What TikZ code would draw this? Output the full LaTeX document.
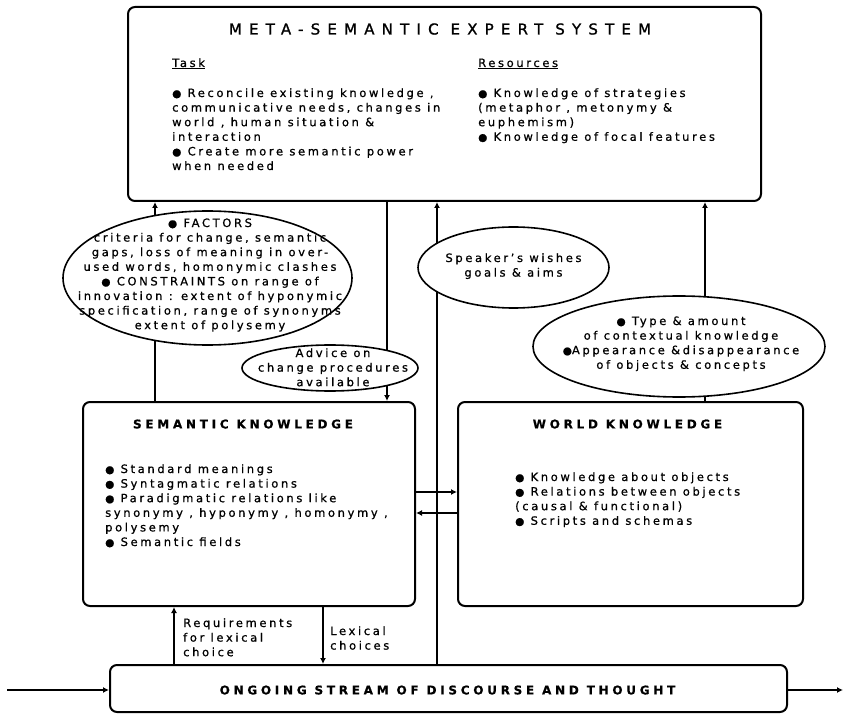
\documentclass[tikz,border=0pt]{standalone}
\usepackage{fontspec}
\setmainfont{DejaVu Sans}[LetterSpace=23,FakeBold=0.8]
\newfontfamily\titlefont{DejaVu Sans}[LetterSpace=48,FakeBold=1.2]
\newfontfamily\headfont{DejaVu Sans}[LetterSpace=31,FakeBold=0.6]
\usetikzlibrary{arrows.meta,shapes.geometric}
\newcommand\bul{{\fontsize{10.5}{10.5}\selectfont ●}}
\begin{document}
\begin{tikzpicture}[x=1pt,y=-1pt,
  box/.style={draw, line width=2pt, rounded corners=7pt, inner sep=0},
  ell/.style={draw, ellipse, fill=white, line width=1.6pt, inner sep=0},
  conn/.style={line width=1.8pt},
  arr/.style={conn, -{Latex[length=6pt,width=6pt]}},
  txt/.style={inner sep=0, align=left, font=\fontsize{11.5}{14.6}\selectfont},
  ctxt/.style={txt, align=center},
  btitle/.style={inner sep=0, font=\headfont\bfseries\fontsize{12}{14}\selectfont}]
\useasboundingbox (0,0) rectangle (844,714);

% boxes
\node[box, minimum width=633, minimum height=194] (meta) at (444.5,104) {};
\node[box, minimum width=332, minimum height=204] (sem) at (249,504) {};
\node[box, minimum width=345, minimum height=204] (world) at (630.5,504) {};
\node[box, minimum width=677, minimum height=47] (bot) at (448.5,688.5) {};

% connector positions
\coordinate (xL) at (155,0);
\coordinate (xA) at (387,0);
\coordinate (xM) at (437,0);
\coordinate (xR) at (705,0);
\coordinate (xReq) at (174,0);
\coordinate (xLex) at (323,0);
\coordinate (yU) at (0,492);
\coordinate (yD) at (0,513);
\coordinate (inL) at (7,690);
\coordinate (outR) at (843,690);

\draw[arr] (sem.north -| xL) -- (meta.south -| xL);
\draw[arr] (meta.south -| xA) -- (sem.north -| xA);
\draw[arr] (bot.north -| xM) -- (meta.south -| xM);
\draw[arr] (world.north -| xR) -- (meta.south -| xR);
\draw[arr] (bot.north -| xReq) -- (sem.south -| xReq);
\draw[arr] (sem.south -| xLex) -- (bot.north -| xLex);
\draw[arr] (sem.east |- yU) -- (world.west |- yU);
\draw[arr] (world.west |- yD) -- (sem.east |- yD);
\draw[arr] (inL) -- (bot.west |- inL);
\draw[arr] (bot.east |- outR) -- (outR);

% ellipses
\node[ell, minimum width=289, minimum height=134] (fac) at (207.5,278) {};
\node[ell, minimum width=176, minimum height=46] (adv) at (330,368) {};
\node[ell, minimum width=191, minimum height=81] (spk) at (513.5,267.5) {};
\node[ell, minimum width=292, minimum height=101] (typ) at (679,346.5) {};

% texts in top box (base anchor = baseline of last line)
\node[inner sep=0, anchor=base, font=\titlefont\fontsize{15}{18}\selectfont] (mtitle) at (440,34.5) {META-SEMANTIC EXPERT SYSTEM};
\node[txt, anchor=base west] (task) at (172,67) {\underline{Task}};
\node[txt, anchor=base west] (tasktxt) at (172,170) {\bul\ Reconcile existing knowledge ,\\communicative needs, changes in\\world , human situation \&\\interaction\\\bul\ Create more semantic power\\when needed};
\node[txt, anchor=base west] (res) at (478,67) {\underline{Resources}};
\node[txt, anchor=base west] (restxt) at (478,140.8) {\bul\ Knowledge of strategies\\(metaphor , metonymy \&\\euphemism)\\\bul\ Knowledge of focal features};

% ellipse texts
\node[ctxt, anchor=base] (factxt) at (210,329.2) {\bul\ FACTORS\\criteria for change, semantic\\gaps, loss of meaning in over-\\used words, homonymic clashes\\\bul\ CONSTRAINTS on range of\\innovation : extent of hyponymic\\specification, range of synonyms\\extent of polysemy};
\node[ctxt, anchor=base] (advtxt) at (333,386.2) {Advice on\\change procedures\\available};
\node[ctxt, anchor=base] (spktxt) at (513.5,276.6) {Speaker's wishes\\goals \& aims};
\node[ctxt, anchor=base] (typtxt) at (681,368.8) {\bul\ Type \& amount\\of contextual knowledge\\\bul Appearance \&disappearance\\of objects \& concepts};

% semantic box
\node[btitle, anchor=base] (semtitle) at (243,428.4) {SEMANTIC KNOWLEDGE};
\node[txt, anchor=base west] (semtxt) at (105,546) {\bul\ Standard meanings\\\bul\ Syntagmatic relations\\\bul\ Paradigmatic relations like\\synonymy , hyponymy , homonymy ,\\polysemy\\\bul\ Semantic fields};

% world box
\node[btitle, anchor=base] (wtitle) at (627.5,428.4) {WORLD KNOWLEDGE};
\node[txt, anchor=base west] (wtxt) at (515,524.8) {\bul\ Knowledge about objects\\\bul\ Relations between objects\\(causal \& functional)\\\bul\ Scripts and schemas};

% bottom labels
\node[txt, anchor=base west] (req) at (183,656.2) {Requirements\\for lexical\\choice};
\node[txt, anchor=base west] (lex) at (330,649.6) {Lexical\\choices};
\node[btitle, anchor=base] (bottitle) at (447.5,694.4) {ONGOING STREAM OF DISCOURSE AND THOUGHT};
\end{tikzpicture}
\end{document}
